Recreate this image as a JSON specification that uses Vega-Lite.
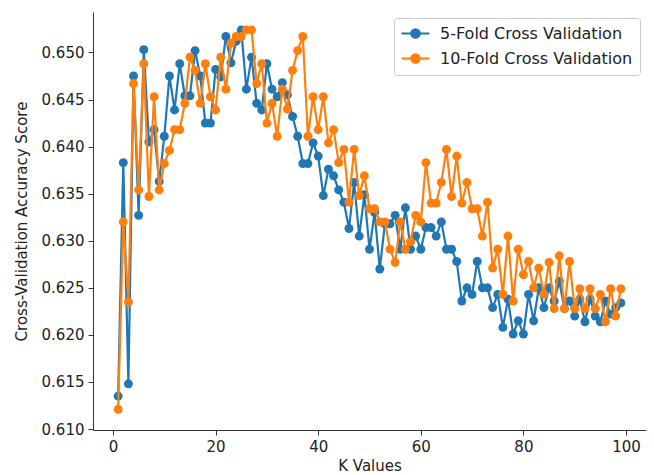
{
  "$schema": "https://vega.github.io/schema/vega-lite/v6.json",
  "autosize": {"type": "none"},
  "width": 553,
  "height": 418,
  "padding": {"left": 93, "top": 12, "right": 8, "bottom": 45},
  "background": "white",
  "config": {
    "view": {"stroke": null},
    "font": "DejaVu Sans",
    "axis": {"grid": false, "domainColor": "#333333", "tickColor": "#333333", "labelColor": "#222222", "titleColor": "#222222", "labelFontSize": 15, "titleFontSize": 15, "titleFontWeight": "normal", "tickSize": 5, "labelPadding": 4, "domainWidth": 1, "tickWidth": 1}
  },
  "datasets": {
    "scores": [
      {"K":1,"cv":"5-Fold Cross Validation","score":0.6135},{"K":2,"cv":"5-Fold Cross Validation","score":0.6383},{"K":3,"cv":"5-Fold Cross Validation","score":0.6148},{"K":4,"cv":"5-Fold Cross Validation","score":0.6475},{"K":5,"cv":"5-Fold Cross Validation","score":0.6327},{"K":6,"cv":"5-Fold Cross Validation","score":0.6503},{"K":7,"cv":"5-Fold Cross Validation","score":0.6405},{"K":8,"cv":"5-Fold Cross Validation","score":0.6418},{"K":9,"cv":"5-Fold Cross Validation","score":0.6363},{"K":10,"cv":"5-Fold Cross Validation","score":0.6411},
      {"K":11,"cv":"5-Fold Cross Validation","score":0.6475},{"K":12,"cv":"5-Fold Cross Validation","score":0.6439},{"K":13,"cv":"5-Fold Cross Validation","score":0.6488},{"K":14,"cv":"5-Fold Cross Validation","score":0.6454},{"K":15,"cv":"5-Fold Cross Validation","score":0.6454},{"K":16,"cv":"5-Fold Cross Validation","score":0.6502},{"K":17,"cv":"5-Fold Cross Validation","score":0.6475},{"K":18,"cv":"5-Fold Cross Validation","score":0.6425},{"K":19,"cv":"5-Fold Cross Validation","score":0.6425},{"K":20,"cv":"5-Fold Cross Validation","score":0.6482},
      {"K":21,"cv":"5-Fold Cross Validation","score":0.6474},{"K":22,"cv":"5-Fold Cross Validation","score":0.6517},{"K":23,"cv":"5-Fold Cross Validation","score":0.6489},{"K":24,"cv":"5-Fold Cross Validation","score":0.6512},{"K":25,"cv":"5-Fold Cross Validation","score":0.6524},{"K":26,"cv":"5-Fold Cross Validation","score":0.6461},{"K":27,"cv":"5-Fold Cross Validation","score":0.6495},{"K":28,"cv":"5-Fold Cross Validation","score":0.6446},{"K":29,"cv":"5-Fold Cross Validation","score":0.6439},{"K":30,"cv":"5-Fold Cross Validation","score":0.6488},
      {"K":31,"cv":"5-Fold Cross Validation","score":0.6461},{"K":32,"cv":"5-Fold Cross Validation","score":0.6453},{"K":33,"cv":"5-Fold Cross Validation","score":0.6468},{"K":34,"cv":"5-Fold Cross Validation","score":0.6455},{"K":35,"cv":"5-Fold Cross Validation","score":0.6432},{"K":36,"cv":"5-Fold Cross Validation","score":0.6411},{"K":37,"cv":"5-Fold Cross Validation","score":0.6382},{"K":38,"cv":"5-Fold Cross Validation","score":0.6382},{"K":39,"cv":"5-Fold Cross Validation","score":0.6404},{"K":40,"cv":"5-Fold Cross Validation","score":0.6390},
      {"K":41,"cv":"5-Fold Cross Validation","score":0.6348},{"K":42,"cv":"5-Fold Cross Validation","score":0.6376},{"K":43,"cv":"5-Fold Cross Validation","score":0.6369},{"K":44,"cv":"5-Fold Cross Validation","score":0.6354},{"K":45,"cv":"5-Fold Cross Validation","score":0.6341},{"K":46,"cv":"5-Fold Cross Validation","score":0.6313},{"K":47,"cv":"5-Fold Cross Validation","score":0.6362},{"K":48,"cv":"5-Fold Cross Validation","score":0.6305},{"K":49,"cv":"5-Fold Cross Validation","score":0.6349},{"K":50,"cv":"5-Fold Cross Validation","score":0.6291},
      {"K":51,"cv":"5-Fold Cross Validation","score":0.6330},{"K":52,"cv":"5-Fold Cross Validation","score":0.6270},{"K":53,"cv":"5-Fold Cross Validation","score":0.6318},{"K":54,"cv":"5-Fold Cross Validation","score":0.6318},{"K":55,"cv":"5-Fold Cross Validation","score":0.6327},{"K":56,"cv":"5-Fold Cross Validation","score":0.6291},{"K":57,"cv":"5-Fold Cross Validation","score":0.6335},{"K":58,"cv":"5-Fold Cross Validation","score":0.6291},{"K":59,"cv":"5-Fold Cross Validation","score":0.6305},{"K":60,"cv":"5-Fold Cross Validation","score":0.6291},
      {"K":61,"cv":"5-Fold Cross Validation","score":0.6314},{"K":62,"cv":"5-Fold Cross Validation","score":0.6314},{"K":63,"cv":"5-Fold Cross Validation","score":0.6305},{"K":64,"cv":"5-Fold Cross Validation","score":0.6320},{"K":65,"cv":"5-Fold Cross Validation","score":0.6291},{"K":66,"cv":"5-Fold Cross Validation","score":0.6291},{"K":67,"cv":"5-Fold Cross Validation","score":0.6278},{"K":68,"cv":"5-Fold Cross Validation","score":0.6236},{"K":69,"cv":"5-Fold Cross Validation","score":0.6250},{"K":70,"cv":"5-Fold Cross Validation","score":0.6243},
      {"K":71,"cv":"5-Fold Cross Validation","score":0.6278},{"K":72,"cv":"5-Fold Cross Validation","score":0.6250},{"K":73,"cv":"5-Fold Cross Validation","score":0.6250},{"K":74,"cv":"5-Fold Cross Validation","score":0.6229},{"K":75,"cv":"5-Fold Cross Validation","score":0.6243},{"K":76,"cv":"5-Fold Cross Validation","score":0.6208},{"K":77,"cv":"5-Fold Cross Validation","score":0.6238},{"K":78,"cv":"5-Fold Cross Validation","score":0.6201},{"K":79,"cv":"5-Fold Cross Validation","score":0.6215},{"K":80,"cv":"5-Fold Cross Validation","score":0.6201},
      {"K":81,"cv":"5-Fold Cross Validation","score":0.6243},{"K":82,"cv":"5-Fold Cross Validation","score":0.6215},{"K":83,"cv":"5-Fold Cross Validation","score":0.6250},{"K":84,"cv":"5-Fold Cross Validation","score":0.6229},{"K":85,"cv":"5-Fold Cross Validation","score":0.6250},{"K":86,"cv":"5-Fold Cross Validation","score":0.6236},{"K":87,"cv":"5-Fold Cross Validation","score":0.6257},{"K":88,"cv":"5-Fold Cross Validation","score":0.6228},{"K":89,"cv":"5-Fold Cross Validation","score":0.6236},{"K":90,"cv":"5-Fold Cross Validation","score":0.6220},
      {"K":91,"cv":"5-Fold Cross Validation","score":0.6238},{"K":92,"cv":"5-Fold Cross Validation","score":0.6214},{"K":93,"cv":"5-Fold Cross Validation","score":0.6238},{"K":94,"cv":"5-Fold Cross Validation","score":0.6220},{"K":95,"cv":"5-Fold Cross Validation","score":0.6214},{"K":96,"cv":"5-Fold Cross Validation","score":0.6236},{"K":97,"cv":"5-Fold Cross Validation","score":0.6222},{"K":98,"cv":"5-Fold Cross Validation","score":0.6229},{"K":99,"cv":"5-Fold Cross Validation","score":0.6234},
      {"K":1,"cv":"10-Fold Cross Validation","score":0.6121},{"K":2,"cv":"10-Fold Cross Validation","score":0.6320},{"K":3,"cv":"10-Fold Cross Validation","score":0.6235},{"K":4,"cv":"10-Fold Cross Validation","score":0.6467},{"K":5,"cv":"10-Fold Cross Validation","score":0.6354},{"K":6,"cv":"10-Fold Cross Validation","score":0.6488},{"K":7,"cv":"10-Fold Cross Validation","score":0.6347},{"K":8,"cv":"10-Fold Cross Validation","score":0.6453},{"K":9,"cv":"10-Fold Cross Validation","score":0.6354},{"K":10,"cv":"10-Fold Cross Validation","score":0.6382},
      {"K":11,"cv":"10-Fold Cross Validation","score":0.6396},{"K":12,"cv":"10-Fold Cross Validation","score":0.6418},{"K":13,"cv":"10-Fold Cross Validation","score":0.6418},{"K":14,"cv":"10-Fold Cross Validation","score":0.6446},{"K":15,"cv":"10-Fold Cross Validation","score":0.6495},{"K":16,"cv":"10-Fold Cross Validation","score":0.6481},{"K":17,"cv":"10-Fold Cross Validation","score":0.6446},{"K":18,"cv":"10-Fold Cross Validation","score":0.6488},{"K":19,"cv":"10-Fold Cross Validation","score":0.6453},{"K":20,"cv":"10-Fold Cross Validation","score":0.6439},
      {"K":21,"cv":"10-Fold Cross Validation","score":0.6495},{"K":22,"cv":"10-Fold Cross Validation","score":0.6461},{"K":23,"cv":"10-Fold Cross Validation","score":0.6510},{"K":24,"cv":"10-Fold Cross Validation","score":0.6517},{"K":25,"cv":"10-Fold Cross Validation","score":0.6517},{"K":26,"cv":"10-Fold Cross Validation","score":0.6524},{"K":27,"cv":"10-Fold Cross Validation","score":0.6524},{"K":28,"cv":"10-Fold Cross Validation","score":0.6467},{"K":29,"cv":"10-Fold Cross Validation","score":0.6488},{"K":30,"cv":"10-Fold Cross Validation","score":0.6425},
      {"K":31,"cv":"10-Fold Cross Validation","score":0.6446},{"K":32,"cv":"10-Fold Cross Validation","score":0.6411},{"K":33,"cv":"10-Fold Cross Validation","score":0.6461},{"K":34,"cv":"10-Fold Cross Validation","score":0.6440},{"K":35,"cv":"10-Fold Cross Validation","score":0.6481},{"K":36,"cv":"10-Fold Cross Validation","score":0.6502},{"K":37,"cv":"10-Fold Cross Validation","score":0.6517},{"K":38,"cv":"10-Fold Cross Validation","score":0.6411},{"K":39,"cv":"10-Fold Cross Validation","score":0.6453},{"K":40,"cv":"10-Fold Cross Validation","score":0.6418},
      {"K":41,"cv":"10-Fold Cross Validation","score":0.6453},{"K":42,"cv":"10-Fold Cross Validation","score":0.6404},{"K":43,"cv":"10-Fold Cross Validation","score":0.6418},{"K":44,"cv":"10-Fold Cross Validation","score":0.6383},{"K":45,"cv":"10-Fold Cross Validation","score":0.6397},{"K":46,"cv":"10-Fold Cross Validation","score":0.6341},{"K":47,"cv":"10-Fold Cross Validation","score":0.6397},{"K":48,"cv":"10-Fold Cross Validation","score":0.6348},{"K":49,"cv":"10-Fold Cross Validation","score":0.6369},{"K":50,"cv":"10-Fold Cross Validation","score":0.6334},
      {"K":51,"cv":"10-Fold Cross Validation","score":0.6334},{"K":52,"cv":"10-Fold Cross Validation","score":0.6320},{"K":53,"cv":"10-Fold Cross Validation","score":0.6320},{"K":54,"cv":"10-Fold Cross Validation","score":0.6291},{"K":55,"cv":"10-Fold Cross Validation","score":0.6277},{"K":56,"cv":"10-Fold Cross Validation","score":0.6320},{"K":57,"cv":"10-Fold Cross Validation","score":0.6291},{"K":58,"cv":"10-Fold Cross Validation","score":0.6299},{"K":59,"cv":"10-Fold Cross Validation","score":0.6327},{"K":60,"cv":"10-Fold Cross Validation","score":0.6320},
      {"K":61,"cv":"10-Fold Cross Validation","score":0.6383},{"K":62,"cv":"10-Fold Cross Validation","score":0.6340},{"K":63,"cv":"10-Fold Cross Validation","score":0.6340},{"K":64,"cv":"10-Fold Cross Validation","score":0.6362},{"K":65,"cv":"10-Fold Cross Validation","score":0.6397},{"K":66,"cv":"10-Fold Cross Validation","score":0.6347},{"K":67,"cv":"10-Fold Cross Validation","score":0.6390},{"K":68,"cv":"10-Fold Cross Validation","score":0.6340},{"K":69,"cv":"10-Fold Cross Validation","score":0.6362},{"K":70,"cv":"10-Fold Cross Validation","score":0.6334},
      {"K":71,"cv":"10-Fold Cross Validation","score":0.6334},{"K":72,"cv":"10-Fold Cross Validation","score":0.6305},{"K":73,"cv":"10-Fold Cross Validation","score":0.6341},{"K":74,"cv":"10-Fold Cross Validation","score":0.6271},{"K":75,"cv":"10-Fold Cross Validation","score":0.6291},{"K":76,"cv":"10-Fold Cross Validation","score":0.6243},{"K":77,"cv":"10-Fold Cross Validation","score":0.6305},{"K":78,"cv":"10-Fold Cross Validation","score":0.6236},{"K":79,"cv":"10-Fold Cross Validation","score":0.6291},{"K":80,"cv":"10-Fold Cross Validation","score":0.6264},
      {"K":81,"cv":"10-Fold Cross Validation","score":0.6278},{"K":82,"cv":"10-Fold Cross Validation","score":0.6250},{"K":83,"cv":"10-Fold Cross Validation","score":0.6271},{"K":84,"cv":"10-Fold Cross Validation","score":0.6243},{"K":85,"cv":"10-Fold Cross Validation","score":0.6277},{"K":86,"cv":"10-Fold Cross Validation","score":0.6228},{"K":87,"cv":"10-Fold Cross Validation","score":0.6284},{"K":88,"cv":"10-Fold Cross Validation","score":0.6228},{"K":89,"cv":"10-Fold Cross Validation","score":0.6278},{"K":90,"cv":"10-Fold Cross Validation","score":0.6228},
      {"K":91,"cv":"10-Fold Cross Validation","score":0.6249},{"K":92,"cv":"10-Fold Cross Validation","score":0.6228},{"K":93,"cv":"10-Fold Cross Validation","score":0.6249},{"K":94,"cv":"10-Fold Cross Validation","score":0.6228},{"K":95,"cv":"10-Fold Cross Validation","score":0.6243},{"K":96,"cv":"10-Fold Cross Validation","score":0.6214},{"K":97,"cv":"10-Fold Cross Validation","score":0.6249},{"K":98,"cv":"10-Fold Cross Validation","score":0.6220},{"K":99,"cv":"10-Fold Cross Validation","score":0.6249}
    ]
  },
  "data": {"name": "scores"},
  "encoding": {
    "x": {"field": "K", "type": "quantitative", "scale": {"domain": [-3.9, 103.9], "nice": false, "zero": false}, "axis": {"values": [0, 20, 40, 60, 80, 100], "title": "K Values", "titlePadding": 4}},
    "y": {"field": "score", "type": "quantitative", "scale": {"domain": [0.6099, 0.6543], "nice": false, "zero": false}, "axis": {"values": [0.610, 0.615, 0.620, 0.625, 0.630, 0.635, 0.640, 0.645, 0.650], "format": ".3f", "title": "Cross-Validation Accuracy Score", "titlePadding": 12}},
    "color": {"field": "cv", "type": "nominal", "scale": {"domain": ["5-Fold Cross Validation", "10-Fold Cross Validation"], "range": ["#1f77b4", "#ff7f0e"]},
      "legend": {"title": null, "orient": "none", "legendX": 301, "legendY": 6, "labelFontSize": 16, "labelColor": "#222222", "labelLimit": 300, "symbolType": "M-2,0L2,0M-0.6,0A0.6,0.6,0,1,1,0.6,0A0.6,0.6,0,1,1,-0.6,0", "symbolSize": 196, "symbolStrokeWidth": 2.2, "symbolOffset": 6, "rowPadding": 6, "labelOffset": 16, "padding": 7, "strokeColor": "#cccccc", "fillColor": "white", "cornerRadius": 3,
        "encode": {"symbols": {"update": {"fill": {"scale": "color", "field": "value"}, "stroke": {"scale": "color", "field": "value"}, "fillOpacity": {"value": 1}}}}}}
  },
  "layer": [
    {"transform": [{"filter": "datum.cv === '5-Fold Cross Validation'"}], "mark": {"type": "line", "strokeWidth": 2.2}},
    {"transform": [{"filter": "datum.cv === '5-Fold Cross Validation'"}], "mark": {"type": "point", "filled": true, "size": 80, "opacity": 1}},
    {"transform": [{"filter": "datum.cv === '10-Fold Cross Validation'"}], "mark": {"type": "line", "strokeWidth": 2.2}},
    {"transform": [{"filter": "datum.cv === '10-Fold Cross Validation'"}], "mark": {"type": "point", "filled": true, "size": 80, "opacity": 1}}
  ]
}
